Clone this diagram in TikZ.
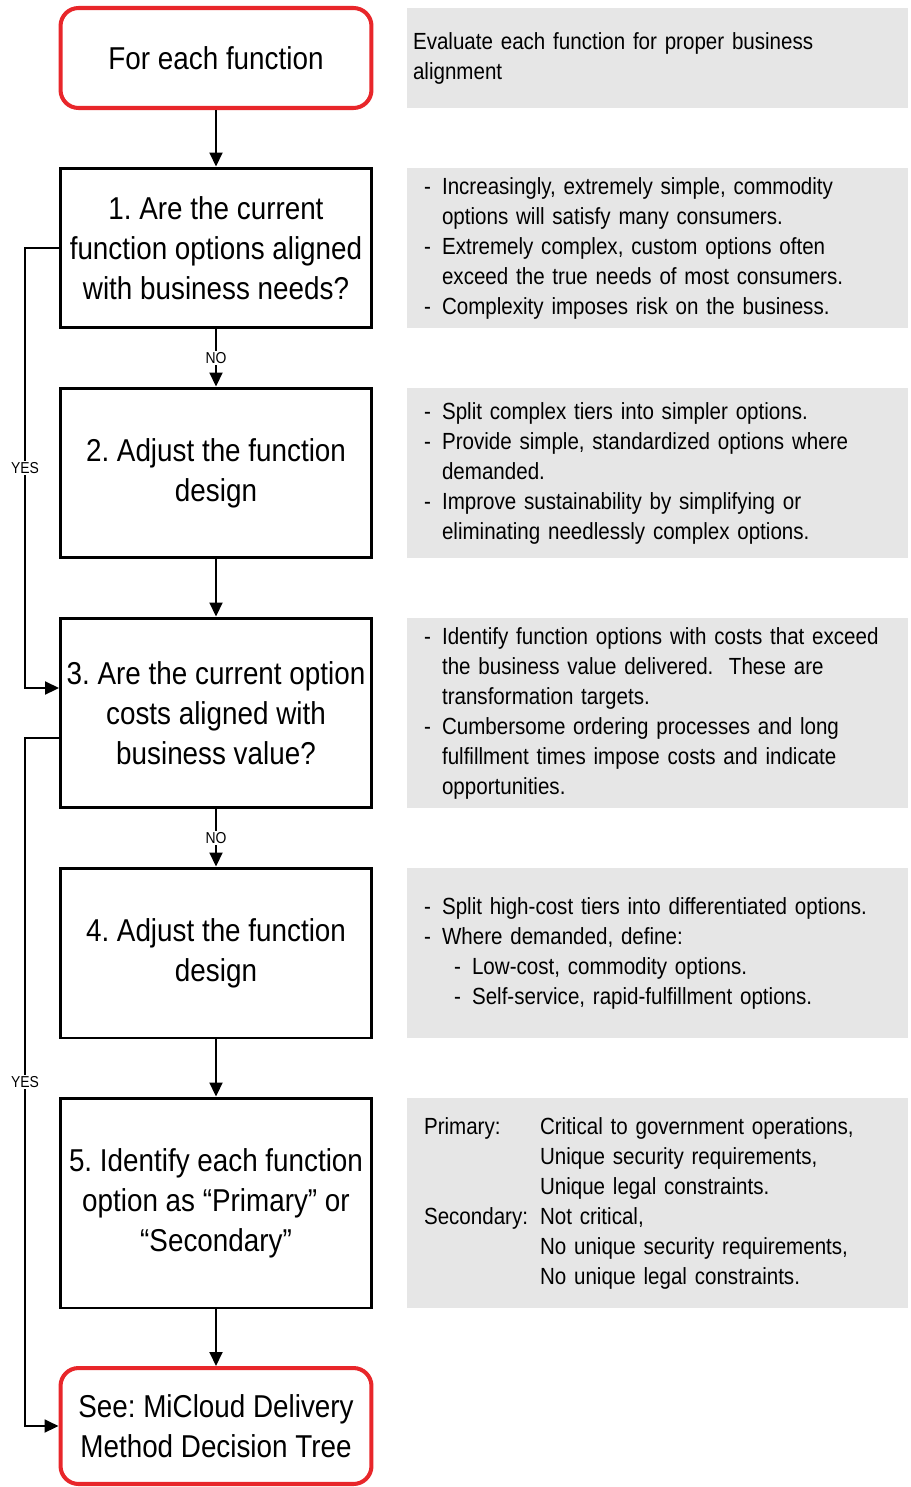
\documentclass[tikz,border=0pt]{standalone}
\usepackage{fontspec}
\setmainfont{Liberation Sans}[FakeStretch=0.88]
\usetikzlibrary{shapes, arrows.meta, positioning}
\frenchspacing
\definecolor{termred}{HTML}{E8262A}
\definecolor{notegray}{HTML}{E6E6E6}
\newcommand{\bul}{\makebox[0.36cm][l]{-}}
\newcommand{\ind}{\hspace*{0.36cm}}
\tikzstyle{terminal} = [rectangle, rounded corners=0.36cm, draw=termred, line width=2.3pt, minimum width=6.22cm, inner xsep=0pt, align=center, font=\fontsize{18}{22.8}\selectfont]
\tikzstyle{process} = [rectangle, draw, line width=1.7pt, minimum width=6.22cm, inner xsep=0pt, align=center, font=\fontsize{18}{22.8}\selectfont]
\tikzstyle{note} = [rectangle, fill=notegray, minimum width=10.02cm, text width=9.34cm, inner xsep=0.34cm, align=left, font=\fontsize{13.3}{17.07}\selectfont]
\tikzstyle{flow} = [-{Triangle[length=0.28cm, width=0.26cm]}, line width=1.1pt]
\tikzstyle{lbl} = [fill=white, inner sep=1pt, font=\fontsize{9}{10}\selectfont]

\begin{document}
\begin{tikzpicture}[x=0.02cm, y=-0.02cm]
  \useasboundingbox (0,0) rectangle (910,1487);

  % flow boxes
  \node[terminal, minimum height=2cm] (st) at (216,58) {For each function};
  \node[process, minimum height=3.2cm] (q1) at (216,248) {1. Are the current\\function options aligned\\with business needs?};
  \node[process, minimum height=3.4cm] (a2) at (216,473) {2. Adjust the function\\design};
  \node[process, minimum height=3.8cm] (q3) at (216,713) {3. Are the current option\\costs aligned with\\business value?};
  \node[process, minimum height=3.4cm] (a4) at (216,953) {4. Adjust the function\\design};
  \node[process, minimum height=4.2cm] (id5) at (216,1203) {5. Identify each function\\option as “Primary” or\\“Secondary”};
  \node[terminal, minimum height=2.32cm] (fin) at (216,1426) {See: MiCloud Delivery\\Method Decision Tree};

  % notes
  \node[note, minimum height=2cm, inner xsep=0.12cm, text width=9.78cm] (n0) at (657.5,58) {Evaluate each function for proper business\\alignment};
  \node[note, minimum height=3.2cm] (n1) at (657.5,248) {\bul Increasingly, extremely simple, commodity\\\ind options will satisfy many consumers.\\\bul Extremely complex, custom options often\\\ind exceed the true needs of most consumers.\\\bul Complexity imposes risk on the business.};
  \node[note, minimum height=3.4cm] (n2) at (657.5,473) {\bul Split complex tiers into simpler options.\\\bul Provide simple, standardized options where\\\ind demanded.\\\bul Improve sustainability by simplifying or\\\ind eliminating needlessly complex options.};
  \node[note, minimum height=3.8cm] (n3) at (657.5,713) {\bul Identify function options with costs that exceed\\\ind the business value delivered.\ \ These are\\\ind transformation targets.\\\bul Cumbersome ordering processes and long\\\ind fulfillment times impose costs and indicate\\\ind opportunities.};
  \node[note, minimum height=3.4cm] (n4) at (657.5,953) {\bul Split high-cost tiers into differentiated options.\\\bul Where demanded, define:\\\hspace*{0.6cm}\bul Low-cost, commodity options.\\\hspace*{0.6cm}\bul Self-service, rapid-fulfillment options.};
  \node[note, minimum height=4.2cm] (n5) at (657.5,1203) {\makebox[2.32cm][l]{Primary:}Critical to government operations,\\\hspace*{2.32cm}Unique security requirements,\\\hspace*{2.32cm}Unique legal constraints.\\\makebox[2.32cm][l]{Secondary:}Not critical,\\\hspace*{2.32cm}No unique security requirements,\\\hspace*{2.32cm}No unique legal constraints.};

  % connectors
  \draw[flow] (st) -- (q1);
  \draw[flow] (q1) -- node[lbl] {NO} (a2);
  \draw[flow] (a2) -- (q3);
  \draw[flow] (q3) -- node[lbl] {NO} (a4);
  \draw[flow] (a4) -- (id5);
  \draw[flow] (id5) -- (fin);
  \draw[flow] (q1.west) -- ++(-34,0) |- node[lbl, pos=0.25] {YES} ([yshift=0.5cm]q3.west);
  \draw[flow] ([yshift=-0.5cm]q3.west) -- ++(-34,0) |- node[lbl, pos=0.25] {YES} (fin.west);
\end{tikzpicture}
\end{document}
